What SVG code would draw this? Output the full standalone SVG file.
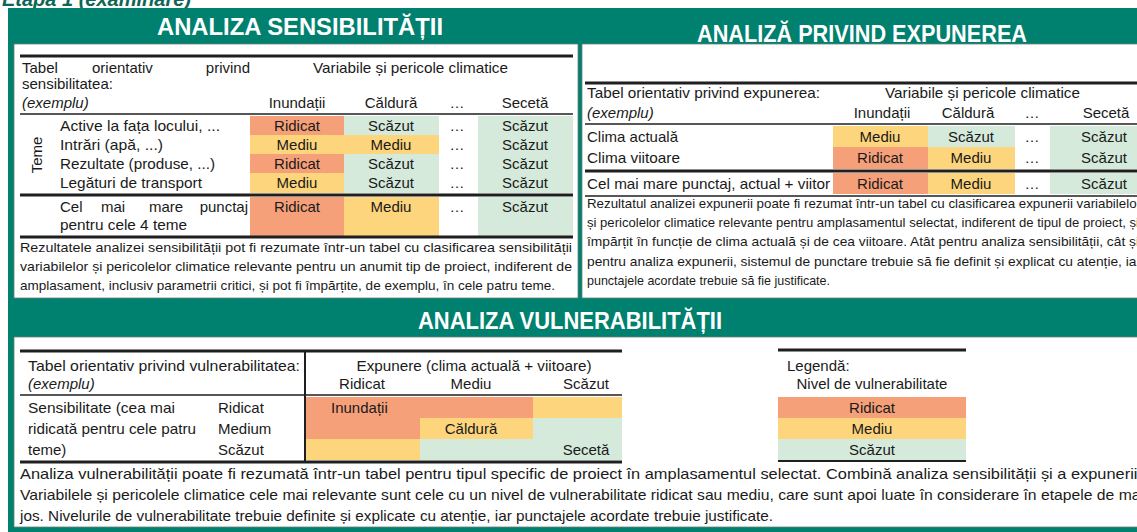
<svg xmlns="http://www.w3.org/2000/svg" width="1137" height="532" viewBox="0 0 1137 532">
<style>
.t{font-family:"Liberation Sans Narrow","Liberation Sans",Arial,sans-serif;font-size:15px;fill:#1a1a1a}
.p{font-size:13.5px}
.c{text-anchor:middle}
.i{font-style:italic}
.h{font-family:"Liberation Sans Narrow","Liberation Sans",Arial,sans-serif;font-weight:bold;font-size:24px;fill:#ffffff;text-anchor:middle}
.R{fill:#f5a079}
.M{fill:#fdd57c}
.S{fill:#d5eadb}
.box{fill:#ffffff;stroke:#6d7f7a;stroke-width:0.8}
.rule{stroke:#1f1f1f;stroke-width:3}
.thin{stroke:#1f1f1f;stroke-width:1.5}
</style>
<rect x="0" y="0" width="1137" height="532" fill="#ffffff"/>
<text x="2" y="6" font-family="Liberation Sans,Arial,sans-serif" font-size="20" font-weight="bold" font-style="italic" fill="#0d6655">Etapa 1 (examinare)</text>
<rect x="8" y="8" width="1129" height="524" fill="#00806e"/>

<g id="sensibilitate">
<text class="h" x="300" y="35" textLength="286" lengthAdjust="spacingAndGlyphs">ANALIZA SENSIBILITĂȚII</text>
<rect class="box" x="14" y="44" width="564" height="254"/>
<line class="rule" x1="20" y1="56" x2="573" y2="56"/>
<text class="t" x="22" y="73">Tabel</text>
<text class="t" x="92" y="73">orientativ</text>
<text class="t" x="250" y="73" text-anchor="end">privind</text>
<text class="t" x="313" y="73" textLength="195" lengthAdjust="spacingAndGlyphs">Variabile și pericole climatice</text>
<text class="t" x="22" y="89">sensibilitatea:</text>
<text class="t i" x="22" y="108">(exemplu)</text>
<text class="t c" x="297" y="108">Inundații</text>
<text class="t c" x="391" y="108">Căldură</text>
<text class="t c" x="457" y="108">…</text>
<text class="t c" x="525" y="108">Secetă</text>
<line class="thin" x1="20" y1="114" x2="573" y2="114"/>
<rect class="R" x="250" y="116" width="94" height="19"/>
<rect class="S" x="344" y="116" width="95" height="19"/>
<rect class="M" x="250" y="135" width="94" height="19"/>
<rect class="M" x="344" y="135" width="95" height="19"/>
<rect class="R" x="250" y="154" width="94" height="19"/>
<rect class="S" x="344" y="154" width="95" height="19"/>
<rect class="M" x="250" y="173" width="94" height="20"/>
<rect class="S" x="344" y="173" width="95" height="20"/>
<rect class="S" x="478" y="116" width="95" height="77"/>
<rect class="R" x="250" y="197" width="94" height="39"/>
<rect class="M" x="344" y="197" width="95" height="39"/>
<rect class="S" x="478" y="197" width="95" height="39"/>
<text class="t" x="42" y="155" transform="rotate(-90 42 155)" text-anchor="middle" font-size="16">Teme</text>
<text class="t" x="60" y="131" textLength="160" lengthAdjust="spacingAndGlyphs">Active la fața locului, ...</text>
<text class="t" x="60" y="150" textLength="103" lengthAdjust="spacingAndGlyphs">Intrări (apă, ...)</text>
<text class="t" x="60" y="169" textLength="155" lengthAdjust="spacingAndGlyphs">Rezultate (produse, ...)</text>
<text class="t" x="60" y="188" textLength="142" lengthAdjust="spacingAndGlyphs">Legături de transport</text>
<text class="t c" x="297" y="131">Ridicat</text><text class="t c" x="391" y="131">Scăzut</text><text class="t c" x="457" y="131">…</text><text class="t c" x="525" y="131">Scăzut</text>
<text class="t c" x="297" y="150">Mediu</text><text class="t c" x="391" y="150">Mediu</text><text class="t c" x="457" y="150">…</text><text class="t c" x="525" y="150">Scăzut</text>
<text class="t c" x="297" y="169">Ridicat</text><text class="t c" x="391" y="169">Scăzut</text><text class="t c" x="457" y="169">…</text><text class="t c" x="525" y="169">Scăzut</text>
<text class="t c" x="297" y="188">Mediu</text><text class="t c" x="391" y="188">Scăzut</text><text class="t c" x="457" y="188">…</text><text class="t c" x="525" y="188">Scăzut</text>
<line class="rule" x1="20" y1="195" x2="573" y2="195"/>
<text class="t" x="60" y="212">Cel</text>
<text class="t" x="101" y="212">mai</text>
<text class="t" x="149" y="212">mare</text>
<text class="t" x="248" y="212" text-anchor="end">punctaj</text>
<text class="t" x="60" y="230" textLength="127" lengthAdjust="spacingAndGlyphs">pentru cele 4 teme</text>
<text class="t c" x="297" y="212">Ridicat</text><text class="t c" x="391" y="212">Mediu</text><text class="t c" x="457" y="212">…</text><text class="t c" x="525" y="212">Scăzut</text>
<line class="rule" x1="20" y1="237" x2="573" y2="237"/>
<text class="t p" x="20" y="252" textLength="552" lengthAdjust="spacingAndGlyphs">Rezultatele analizei sensibilității pot fi rezumate într-un tabel cu clasificarea sensibilității</text>
<text class="t p" x="20" y="271" textLength="552" lengthAdjust="spacingAndGlyphs">variabilelor și pericolelor climatice relevante pentru un anumit tip de proiect, indiferent de</text>
<text class="t p" x="20" y="290" textLength="535" lengthAdjust="spacingAndGlyphs">amplasament, inclusiv parametrii critici, și pot fi împărțite, de exemplu, în cele patru teme.</text>
</g>

<g id="expunere">
<text class="h" x="862" y="42" textLength="330" lengthAdjust="spacingAndGlyphs">ANALIZĂ PRIVIND EXPUNEREA</text>
<rect class="box" x="582" y="44" width="560" height="254"/>
<line class="rule" x1="585" y1="83" x2="1137" y2="83"/>
<text class="t" x="587" y="98" textLength="233" lengthAdjust="spacingAndGlyphs">Tabel orientativ privind expunerea:</text>
<text class="t" x="885" y="98" textLength="195" lengthAdjust="spacingAndGlyphs">Variabile și pericole climatice</text>
<text class="t i" x="587" y="118">(exemplu)</text>
<text class="t c" x="882" y="118">Inundații</text>
<text class="t c" x="968" y="118">Căldură</text>
<text class="t c" x="1032" y="118">…</text>
<text class="t c" x="1106" y="118">Secetă</text>
<line class="thin" x1="585" y1="124" x2="1137" y2="124"/>
<rect class="M" x="833" y="126" width="95" height="21"/>
<rect class="S" x="928" y="126" width="87" height="21"/>
<rect class="S" x="1050" y="126" width="87" height="21"/>
<rect class="R" x="833" y="147" width="95" height="22"/>
<rect class="M" x="928" y="147" width="87" height="22"/>
<rect class="S" x="1050" y="147" width="87" height="22"/>
<rect class="R" x="833" y="173" width="95" height="21"/>
<rect class="M" x="928" y="173" width="87" height="21"/>
<rect class="S" x="1050" y="173" width="87" height="21"/>
<text class="t" x="587" y="142" textLength="91" lengthAdjust="spacingAndGlyphs">Clima actuală</text>
<text class="t" x="587" y="163" textLength="93" lengthAdjust="spacingAndGlyphs">Clima viitoare</text>
<text class="t c" x="880" y="142">Mediu</text><text class="t c" x="971" y="142">Scăzut</text><text class="t c" x="1032" y="142">…</text><text class="t c" x="1104" y="142">Scăzut</text>
<text class="t c" x="880" y="163">Ridicat</text><text class="t c" x="971" y="163">Mediu</text><text class="t c" x="1032" y="163">…</text><text class="t c" x="1104" y="163">Scăzut</text>
<line class="rule" x1="585" y1="171" x2="1137" y2="171"/>
<text class="t" x="587" y="189" textLength="243" lengthAdjust="spacingAndGlyphs">Cel mai mare punctaj, actual + viitor</text>
<text class="t c" x="880" y="189">Ridicat</text><text class="t c" x="971" y="189">Mediu</text><text class="t c" x="1032" y="189">…</text><text class="t c" x="1104" y="189">Scăzut</text>
<line class="thin" x1="585" y1="196" x2="1137" y2="196"/>
<text class="t p" x="587" y="208" textLength="554" lengthAdjust="spacingAndGlyphs">Rezultatul analizei expunerii poate fi rezumat într-un tabel cu clasificarea expunerii variabilelor</text>
<text class="t p" x="587" y="227" textLength="552" lengthAdjust="spacingAndGlyphs">și pericolelor climatice relevante pentru amplasamentul selectat, indiferent de tipul de proiect, și</text>
<text class="t p" x="587" y="246" textLength="552" lengthAdjust="spacingAndGlyphs">împărțit în funcție de clima actuală și de cea viitoare. Atât pentru analiza sensibilității, cât și</text>
<text class="t p" x="587" y="266" textLength="554" lengthAdjust="spacingAndGlyphs">pentru analiza expunerii, sistemul de punctare trebuie să fie definit și explicat cu atenție, iar</text>
<text class="t p" x="587" y="285" textLength="243" lengthAdjust="spacingAndGlyphs">punctajele acordate trebuie să fie justificate.</text>
</g>

<g id="vulnerabilitate">
<text class="h" x="570" y="329" textLength="304" lengthAdjust="spacingAndGlyphs">ANALIZA VULNERABILITĂȚII</text>
<rect class="box" x="14" y="337" width="1130" height="190"/>
<line class="rule" x1="20" y1="351" x2="622" y2="351"/>
<text class="t" x="28" y="371" textLength="272" lengthAdjust="spacingAndGlyphs">Tabel orientativ privind vulnerabilitatea:</text>
<text class="t i" x="28" y="389">(exemplu)</text>
<text class="t c" x="474" y="371" textLength="235" lengthAdjust="spacingAndGlyphs">Expunere (clima actuală + viitoare)</text>
<text class="t c" x="362" y="389">Ridicat</text>
<text class="t c" x="471" y="389">Mediu</text>
<text class="t c" x="586" y="389">Scăzut</text>
<line class="thin" x1="20" y1="395" x2="622" y2="395"/>
<rect class="R" x="306" y="397" width="227" height="21"/>
<rect class="M" x="533" y="397" width="89" height="21"/>
<rect class="R" x="306" y="418" width="114" height="21"/>
<rect class="M" x="420" y="418" width="113" height="21"/>
<rect class="S" x="533" y="418" width="89" height="21"/>
<rect class="M" x="306" y="439" width="114" height="21"/>
<rect class="S" x="420" y="439" width="202" height="21"/>
<text class="t" x="331" y="413">Inundații</text>
<text class="t c" x="471" y="434">Căldură</text>
<text class="t c" x="586" y="455">Secetă</text>
<text class="t" x="28" y="413" textLength="147" lengthAdjust="spacingAndGlyphs">Sensibilitate (cea mai</text>
<text class="t" x="28" y="434" textLength="168" lengthAdjust="spacingAndGlyphs">ridicată pentru cele patru</text>
<text class="t" x="28" y="455">teme)</text>
<text class="t" x="218" y="413">Ridicat</text>
<text class="t" x="218" y="434">Medium</text>
<text class="t" x="218" y="455">Scăzut</text>
<line x1="305" y1="351" x2="305" y2="462" stroke="#1f1f1f" stroke-width="2"/>
<line class="rule" x1="20" y1="462" x2="622" y2="462"/>
<text class="t" x="20" y="479" textLength="1122" lengthAdjust="spacingAndGlyphs">Analiza vulnerabilității poate fi rezumată într-un tabel pentru tipul specific de proiect în amplasamentul selectat. Combină analiza sensibilității și a expunerii.</text>
<text class="t" x="20" y="500" textLength="1124" lengthAdjust="spacingAndGlyphs">Variabilele și pericolele climatice cele mai relevante sunt cele cu un nivel de vulnerabilitate ridicat sau mediu, care sunt apoi luate în considerare în etapele de mai</text>
<text class="t" x="20" y="521" textLength="753" lengthAdjust="spacingAndGlyphs">jos. Nivelurile de vulnerabilitate trebuie definite și explicate cu atenție, iar punctajele acordate trebuie justificate.</text>
</g>

<g id="legenda">
<line class="rule" x1="778" y1="350" x2="966" y2="350"/>
<text class="t" x="787" y="371">Legendă:</text>
<text class="t c" x="872" y="389">Nivel de vulnerabilitate</text>
<rect class="R" x="778" y="397" width="188" height="21"/>
<rect class="M" x="778" y="418" width="188" height="21"/>
<rect class="S" x="778" y="439" width="188" height="21"/>
<text class="t c" x="872" y="413">Ridicat</text>
<text class="t c" x="872" y="434">Mediu</text>
<text class="t c" x="872" y="455">Scăzut</text>
<line x1="778" y1="461" x2="966" y2="461" stroke="#1f1f1f" stroke-width="2"/>
</g>
<g id="connectors"/>
</svg>
